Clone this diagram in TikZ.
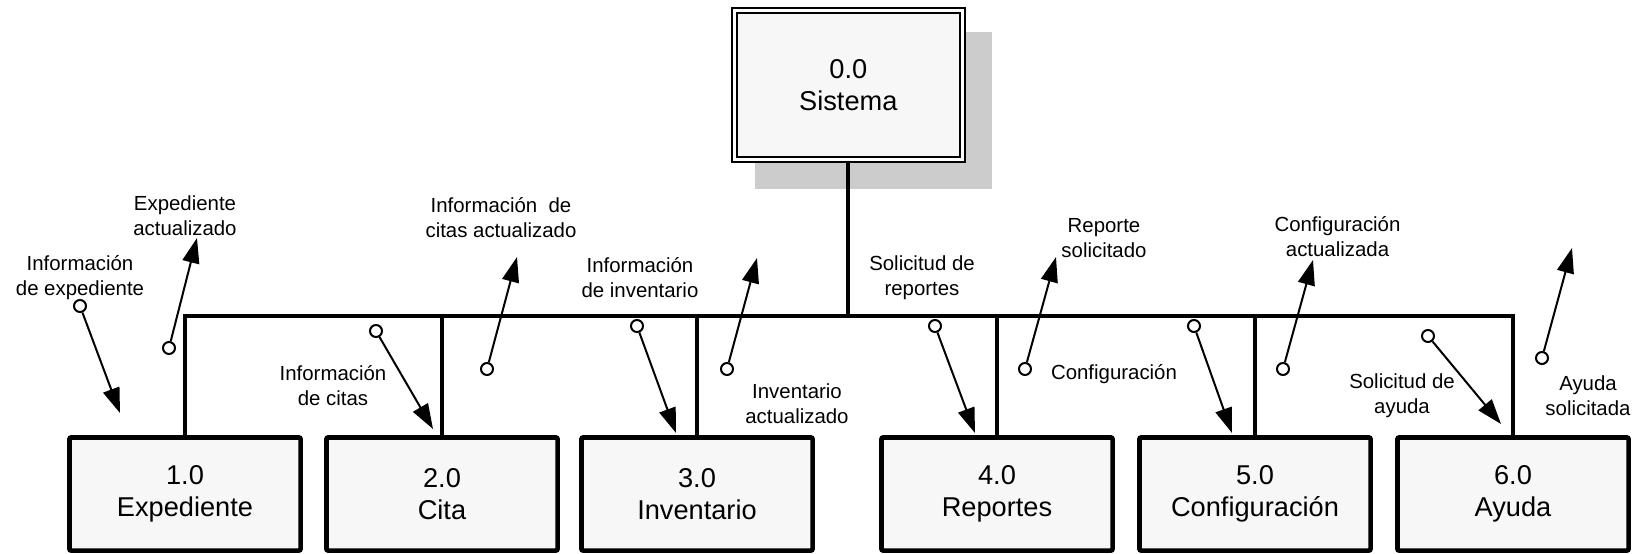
\documentclass[tikz,border=0pt]{standalone}
\usepackage{fontspec}
\setmainfont{Liberation Sans}
\usetikzlibrary{arrows.meta}
\definecolor{boxfill}{HTML}{F7F7F7}
\definecolor{shadowgray}{HTML}{CCCCCC}
\begin{document}
\begin{tikzpicture}[x=0.5pt,y=-0.5pt,
  proc/.style={draw=black, line width=2.35pt, fill=boxfill, rounded corners=1pt,
    minimum width=115.6pt, minimum height=56.6pt, align=center, inner sep=0pt,
    font=\fontsize{13.6}{16}\selectfont},
  topbox/.style={draw=black, line width=1pt, double=white, double distance=1.5pt,
    fill=boxfill, minimum width=114.2pt, minimum height=74.3pt, align=center,
    inner sep=0pt, font=\fontsize{13.6}{16}\selectfont},
  bus/.style={line width=2pt},
  circ/.style={circle, draw=black, line width=1pt, fill=white, minimum size=6pt, inner sep=0pt},
  flow/.style={line width=1pt, -{Triangle[length=12.5pt,width=8.5pt]}},
  lbl/.style={align=center, inner sep=0pt, font=\fontsize{10.2}{12.5}\selectfont}
]
\useasboundingbox (0,0) rectangle (1639,553);
% shadow and top process
\fill[shadowgray] (755,31.7) rectangle (992,189);
\node[topbox] (top) at (848.3,85.2) {0.0\\Sistema};
% child processes
\node[proc] (b1) at (185,494) {1.0\\Expediente};
\node[proc] (b2) at (442,494) {2.0\\Cita};
\node[proc] (b3) at (697,494) {3.0\\Inventario};
\node[proc] (b4) at (997,494) {4.0\\Reportes};
\node[proc] (b5) at (1255,494) {5.0\\Configuración};
\node[proc] (b6) at (1513,494) {6.0\\Ayuda};
% bus
\coordinate (bus) at (848.3,315.7);
\draw[bus] (top.south) -- (bus);
\draw[bus, line join=miter] (b1.north) -- (b1.north |- bus) -- (b6.north |- bus) -- (b6.north);
\draw[bus] (b2.north) -- (b2.north |- bus);
\draw[bus] (b3.north) -- (b3.north |- bus);
\draw[bus] (b4.north) -- (b4.north |- bus);
\draw[bus] (b5.north) -- (b5.north |- bus);
% labels
\node[lbl] (l1) at (80,278) {Información\\de expediente};
\node[lbl] (l2) at (185,216) {Expediente\\actualizado};
\node[lbl] (l3) at (333,386) {Información\\de citas};
\node[lbl] (l4) at (501,218) {Información\ \ de\\citas actualizado};
\node[lbl] (l5) at (640,278) {Información\\de inventario};
\node[lbl] (l6) at (797,404) {Inventario\\actualizado};
\node[lbl] (l7) at (922,278) {Solicitud de\\reportes};
\node[lbl] (l8) at (1104,238) {Reporte\\solicitado};
\node[lbl] (l9) at (1114,374) {Configuración};
\node[lbl] (l10) at (1337.5,237) {Configuración\\actualizada};
\node[lbl] (l11) at (1402,396) {Solicitud de\\ayuda};
\node[lbl] (l12) at (1588,396) {Ayuda\\solicitada};
% data couples
\node[circ] (c1) at (80,306) {};    \coordinate (t1) at (120,413);
\node[circ] (c2) at (169,348) {};   \coordinate (t2) at (197,238);
\node[circ] (c3) at (376,331) {};   \coordinate (t3) at (433,429);
\node[circ] (c4) at (487,369) {};   \coordinate (t4) at (517,257);
\node[circ] (c5) at (637,326) {};   \coordinate (t5) at (676,433);
\node[circ] (c6) at (727,369) {};   \coordinate (t6) at (757,258);
\node[circ] (c7) at (935,326) {};   \coordinate (t7) at (975,433);
\node[circ] (c8) at (1025,369) {};  \coordinate (t8) at (1056,257);
\node[circ] (c9) at (1194,326) {};  \coordinate (t9) at (1232,433);
\node[circ] (c10) at (1283,369) {}; \coordinate (t10) at (1313,260);
\node[circ] (c11) at (1428,336) {}; \coordinate (t11) at (1501,424);
\node[circ] (c12) at (1542,358) {}; \coordinate (t12) at (1572,248);
\foreach \i in {1,...,12} {\draw[flow] (c\i) -- (t\i);}
\end{tikzpicture}
\end{document}
